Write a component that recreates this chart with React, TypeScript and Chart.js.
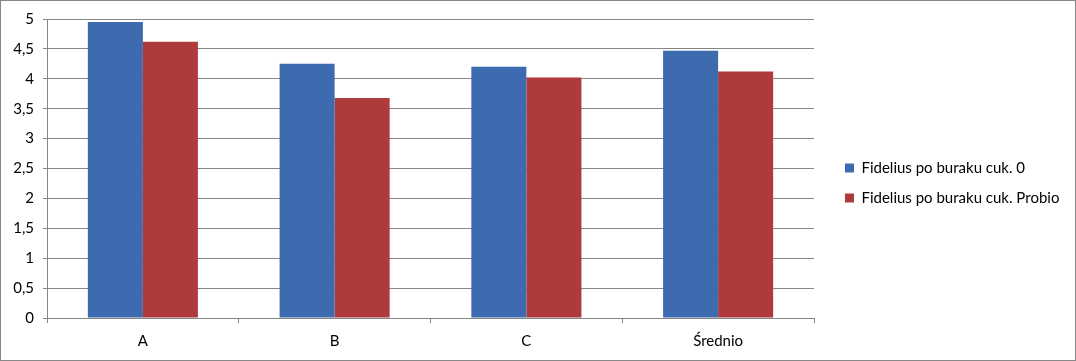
import React, { useEffect, useRef } from "react";
import { Chart, registerables } from "chart.js";

Chart.register(...registerables);

const categories = ["A", "B", "C", "Średnio"];
const seriesNames = ["Fidelius po buraku cuk. 0", "Fidelius po buraku cuk. Probio"];
const series0 = [4.95, 4.25, 4.2, 4.47];
const series1 = [4.62, 3.68, 4.02, 4.12];
const colors = ["#3E6AAF", "#AF3A3C"];
const FONT = "Lato, 'Open Sans', sans-serif";

const legendLayout = {
  id: "legendLayout",
  beforeUpdate(chart: any) {
    const lg = chart.legend;
    if (lg && !lg.__patched) {
      const orig = lg.fit.bind(lg);
      lg.fit = function () {
        orig();
        this.width = 261;
      };
      lg.__patched = true;
    }
  },
  afterLayout(chart: any) {
    const lg = chart.legend;
    if (lg) {
      lg.left += 16;
      lg.right += 16;
      lg.top -= 6;
      lg.bottom -= 6;
    }
  },
};

export default function App() {
  const ref = useRef<HTMLCanvasElement | null>(null);
  useEffect(() => {
    document.body.style.margin = "0";
    const canvas = ref.current!;
    const chart = new Chart(canvas, {
      type: "bar",
      data: {
        labels: categories,
        datasets: [
          { label: seriesNames[0], data: series0, backgroundColor: colors[0], borderWidth: 0 },
          { label: seriesNames[1], data: series1, backgroundColor: colors[1], borderWidth: 0 },
        ],
      },
      plugins: [legendLayout],
      options: {
        animation: false,
        responsive: false,
        maintainAspectRatio: false,
        layout: { padding: { left: 0, right: 0, top: 17, bottom: 0 } },
        datasets: { bar: { categoryPercentage: 0.574, barPercentage: 1 } },
        plugins: {
          tooltip: { enabled: false },
          legend: {
            position: "right",
            align: "center",
            labels: {
              boxWidth: 9,
              boxHeight: 9,
              padding: 15,
              color: "#000",
              font: { family: FONT, size: 15 },
            },
          },
        },
        scales: {
          x: {
            afterFit: (s: any) => { s.height = 42; },
            grid: { display: true, drawOnChartArea: false, offset: true, color: "#868686", tickLength: 5 },
            border: { color: "#868686" },
            ticks: { color: "#000", font: { family: FONT, size: 15 }, padding: 9 },
          },
          y: {
            min: 0,
            max: 5,
            afterFit: (s: any) => { s.width = 46; },
            ticks: {
              stepSize: 0.5,
              color: "#000",
              font: { family: FONT, size: 15 },
              padding: 9,
              callback: (v: any) => String(v).replace(".", ","),
            },
            grid: { color: "#868686", tickLength: 4 },
            border: { color: "#868686" },
          },
        },
      },
    });
    return () => chart.destroy();
  }, []);
  return (
    <div style={{ width: 1076, height: 361, boxSizing: "border-box", border: "1px solid #878787", background: "#fff" }}>
      <canvas ref={ref} width={1074} height={359} style={{ display: "block" }} />
    </div>
  );
}
